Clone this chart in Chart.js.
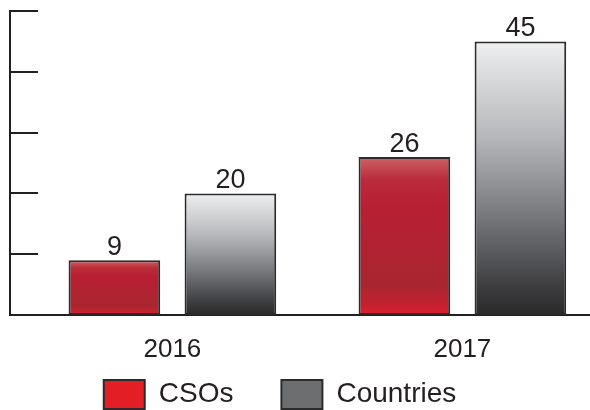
<!DOCTYPE html>
<html>
<head>
<meta charset="utf-8">
<script src="https://cdn.jsdelivr.net/npm/chart.js@4/dist/chart.umd.min.js"></script>
<style>
  html, body { margin:0; padding:0; background:#fff; }
  #wrap { width:590px; height:410px; position:relative; }
</style>
</head>
<body>
<div id="wrap"><canvas id="c"></canvas></div>
<script>
  // ── Datos ──
  const years = ['2016', '2017'];
  const csos = [9, 26];
  const countries = [20, 45];
  const seriesNames = ['CSOs', 'Countries'];
  const legendColors = ['#e31e25', '#6d6e70'];
  const yTicks = [0, 10, 20, 30, 40, 50];

  const FONT = '"Liberation Sans", Arial, sans-serif';
  const INK = '#231f20';

  // gradiente vertical por barra, desde la escala y
  function barGradient(stops){
    return function(ctx){
      const chart = ctx.chart;
      const ys = chart.scales && chart.scales.y;
      if(!ys || ctx.type !== 'data' || !chart.chartArea) return stops[2][1];
      const v = ctx.raw && ctx.raw.y != null ? ctx.raw.y : ctx.parsed.y;
      const top = ys.getPixelForValue(v), bot = ys.getPixelForValue(0);
      const g = chart.ctx.createLinearGradient(0, top, 0, bot);
      stops.forEach(function(s){ g.addColorStop(s[0], s[1]); });
      return g;
    };
  }
  const redStops = [[0,'#cc6466'],[0.14,'#bc2c3b'],[0.3,'#b81f33'],[0.82,'#a9262f'],[0.95,'#c8202f'],[1,'#e01f33']];
  const greyStops = [[0,'#eeefef'],[0.35,'#b5b7ba'],[0.65,'#74767a'],[0.9,'#3c3c3e'],[1,'#2a292a']];

  // marcas del eje y hacia dentro del área
  const innerTicks = {
    id:'innerTicks',
    afterDraw(chart){
      const ys = chart.scales.y, ctx = chart.ctx, left = chart.chartArea.left;
      ctx.save();
      ctx.strokeStyle = INK; ctx.lineWidth = 2;
      ys.ticks.forEach(function(t){
        if(t.value === 0) return;
        const y = Math.round(ys.getPixelForValue(t.value));
        ctx.beginPath(); ctx.moveTo(left, y); ctx.lineTo(left + 28, y); ctx.stroke();
      });
      ctx.restore();
    }
  };

  // años bajo el eje x (la escala x es baja para dejar sitio a la leyenda)
  const yearLabels = {
    id:'yearLabels',
    afterDraw(chart){
      const xs = chart.scales.x, ctx = chart.ctx;
      ctx.save();
      ctx.font = '26px ' + FONT;
      ctx.fillStyle = INK; ctx.textAlign = 'center'; ctx.textBaseline = 'alphabetic';
      xs.ticks.forEach(function(t){
        ctx.fillText(years[t.value], xs.getPixelForValue(t.value), xs.top + 42);
      });
      ctx.restore();
    }
  };

  // etiquetas de valor encima de cada barra
  const valueLabels = {
    id:'valueLabels',
    afterDatasetsDraw(chart){
      const ctx = chart.ctx;
      ctx.save();
      ctx.font = '27px ' + FONT;
      ctx.fillStyle = INK; ctx.textAlign = 'center'; ctx.textBaseline = 'alphabetic';
      chart.data.datasets.forEach(function(ds, di){
        chart.getDatasetMeta(di).data.forEach(function(el, i){
          ctx.fillText(String(ds.data[i].y), el.x, el.y - 5);
        });
      });
      ctx.restore();
    }
  };

  // la leyenda va un poco a la izquierda, como en el original
  const legendShift = {
    id:'legendShift',
    afterLayout(chart){
      if(chart.legend){ chart.legend.left -= 20; chart.legend.right -= 20; }
    }
  };

  new Chart(document.getElementById('c'), {
    type:'bar',
    data:{
      datasets:[
        { label:seriesNames[0], data:years.map(function(_, i){ return {x:i, y:csos[i]}; }),
          backgroundColor:barGradient(redStops), borderColor:'#2b2b2b', borderWidth:2, borderSkipped:false },
        { label:seriesNames[1], data:years.map(function(_, i){ return {x:i, y:countries[i]}; }),
          backgroundColor:barGradient(greyStops), borderColor:'#2b2b2b', borderWidth:2, borderSkipped:false }
      ]
    },
    options:{
      responsive:true, maintainAspectRatio:false, animation:false,
      layout:{ padding:{ top:11, left:10, right:0, bottom:-9 } },
      datasets:{ bar:{ categoryPercentage:0.8, barPercentage:0.79 } },
      scales:{
        x:{
          type:'linear', min:-0.560, max:1.44, offset:false,
          afterBuildTicks(scale){ scale.ticks = years.map(function(_, i){ return {value:i}; }); },
          afterFit(scale){ scale.height = 17; },
          ticks:{ display:false },
          grid:{ display:false, drawTicks:false },
          border:{ display:true, color:INK, width:2 }
        },
        y:{
          min:0, max:50,
          afterBuildTicks(scale){ scale.ticks = yTicks.map(function(v){ return {value:v}; }); },
          ticks:{ display:false },
          grid:{ display:false, drawTicks:false },
          border:{ display:true, color:INK, width:2 }
        }
      },
      plugins:{
        tooltip:{ enabled:false },
        legend:{
          position:'bottom',
          labels:{
            boxWidth:41, boxHeight:29, padding:48, color:INK,
            font:{ size:28, family:FONT },
            generateLabels:function(){
              return seriesNames.map(function(n, i){
                return { text:n, fillStyle:legendColors[i], strokeStyle:'#2b2b2b', lineWidth:2, datasetIndex:i, fontColor:INK };
              });
            }
          }
        }
      }
    },
    plugins:[innerTicks, yearLabels, valueLabels, legendShift]
  });
</script>
</body>
</html>
